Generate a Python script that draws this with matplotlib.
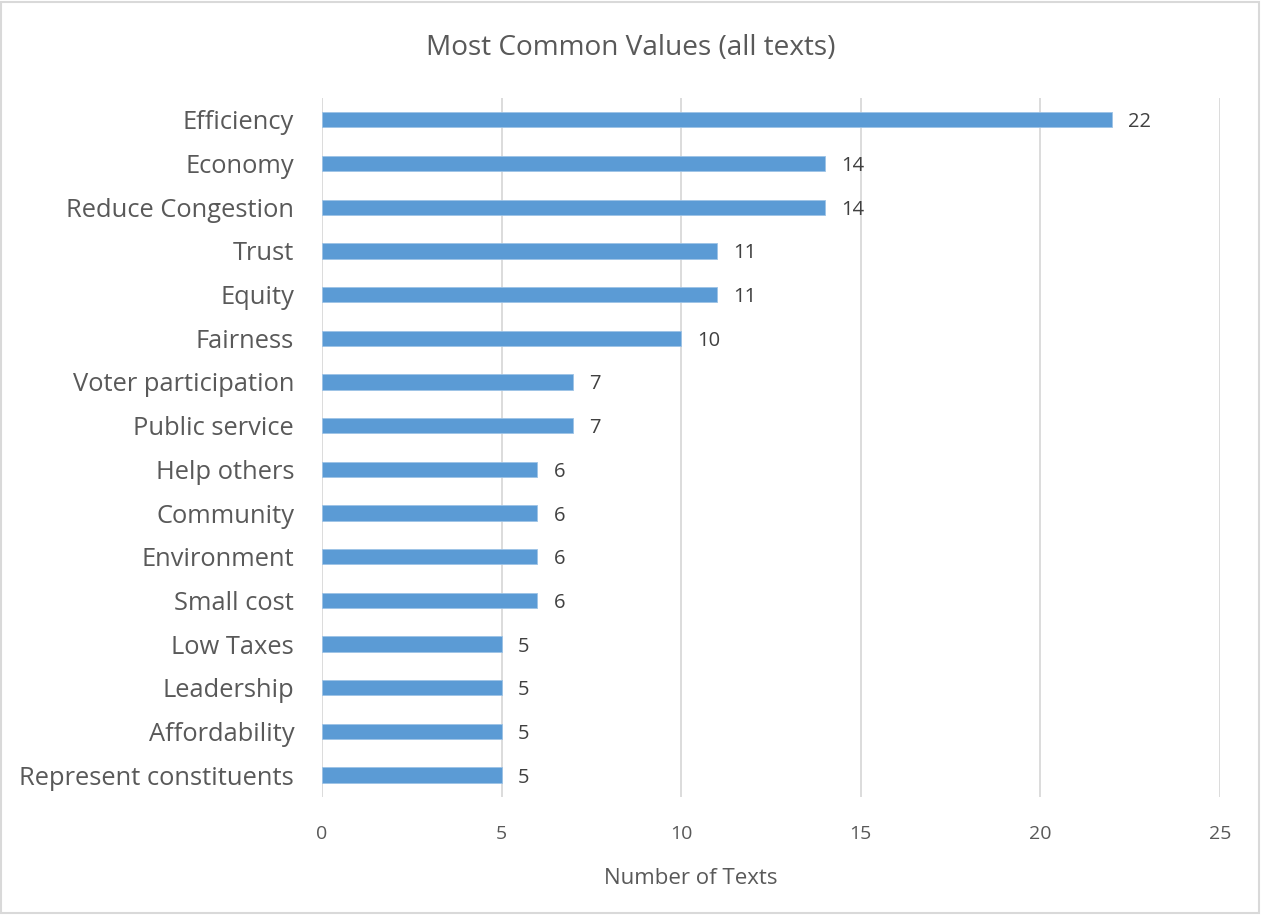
"""
Horizontal bar chart: most common values across all texts.
"""

import matplotlib
matplotlib.use("Agg")
import matplotlib.pyplot as plt
from matplotlib.patches import Rectangle

plt.rcParams['font.family'] = ['Open Sans', 'DejaVu Sans']

categories = [
    'Efficiency', 'Economy', 'Reduce Congestion', 'Trust', 'Equity',
    'Fairness', 'Voter participation', 'Public service', 'Help others',
    'Community', 'Environment', 'Small cost', 'Low Taxes', 'Leadership',
    'Affordability', 'Represent constituents',
]
counts = [22, 14, 14, 11, 11, 10, 7, 7, 6, 6, 6, 6, 5, 5, 5, 5]
x_ticks = [0, 5, 10, 15, 20, 25]

BAR_COLOR = '#5B9BD5'
GRID_COLOR = '#D9D9D9'
TEXT_COLOR = '#595959'
LABEL_COLOR = '#404040'

fig = plt.figure(figsize=(12.62, 9.15), dpi=100)
ax = fig.add_axes([0.2551, 0.129, 0.7116, 0.7639])

y_pos = list(range(len(categories)))
bars = ax.barh(y_pos, counts, height=0.35, color=BAR_COLOR,
               edgecolor='#9DC3E6', linewidth=0.6, zorder=3)

ax.set_ylim(len(categories) - 0.5, -0.5)
ax.set_xlim(0, 25)
ax.set_xticks(x_ticks)
ax.set_xticklabels([str(t) for t in x_ticks], fontsize=14, color=TEXT_COLOR)
ax.set_yticks(y_pos)
ax.set_yticklabels(categories, fontsize=18.4, color=TEXT_COLOR)
ax.tick_params(axis='both', length=0)
ax.tick_params(axis='x', pad=20)
ax.tick_params(axis='y', pad=20)

ax.grid(axis='x', color=GRID_COLOR, linewidth=1.3, zorder=0)
for spine in ax.spines.values():
    spine.set_visible(False)

# value labels just past each bar end
for bar, val in zip(bars, counts):
    ax.text(val + 0.45, bar.get_y() + bar.get_height() / 2, str(val),
            va='center_baseline', ha='left', fontsize=14.5, color=LABEL_COLOR)

fig.text(0.547, 1 - 878 / 915, 'Number of Texts', ha='center', va='center',
         fontsize=16, color=TEXT_COLOR)
fig.text(0.5, 1 - 48 / 915, 'Most Common Values (all texts)', ha='center',
         va='center', fontsize=20.2, color=TEXT_COLOR)

# light frame around the whole chart
fig.patches.append(Rectangle((0.001, 0.002), 0.997, 0.996, transform=fig.transFigure,
                             fill=False, edgecolor='#D9D9D9', linewidth=1.5))

fig.savefig('out.png', dpi=100)
plt.close(fig)
